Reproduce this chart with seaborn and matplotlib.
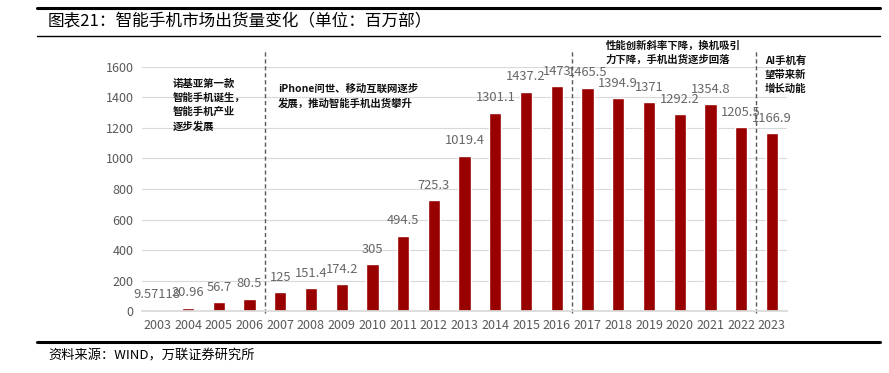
import matplotlib
matplotlib.use('Agg')
import matplotlib.pyplot as plt
import seaborn as sns
import pandas as pd

years = [str(y) for y in range(2003, 2024)]
shipments = [9.57118, 20.96, 56.7, 80.5, 125, 151.4, 174.2, 305, 494.5, 725.3,
             1019.4, 1301.1, 1437.2, 1473, 1465.5, 1394.9, 1371, 1292.2,
             1354.8, 1205.5, 1166.9]
value_labels = ['9.57118', '20.96', '56.7', '80.5', '125', '151.4', '174.2', '305',
                '494.5', '725.3', '1019.4', '1301.1', '1437.2', '1473', '1465.5',
                '1394.9', '1371', '1292.2', '1354.8', '1205.5', '1166.9']
phase_breaks = ['2006', '2016', '2022']  # dashed line after these years
phase_notes = ['诺基亚第一款\n智能手机诞生，\n智能手机产业\n逐步发展',
               'iPhone问世、移动互联网逐步\n发展，推动智能手机出货攀升',
               '性能创新斜率下降，换机吸引\n力下降，手机出货逐步回落',
               'AI手机有\n望带来新\n增长动能']

df = pd.DataFrame({'year': years, 'shipments': shipments})

sns.set_theme(style='white')
plt.rcParams['font.family'] = ['Noto Sans CJK SC', 'DejaVu Sans']

fig = plt.figure(figsize=(8.89, 3.73), dpi=100)
ax = fig.add_axes([0.1597, 0.1662, 0.7258, 0.6542])

sns.barplot(ax=ax, data=df, x='year', y='shipments', color='#990000',
            saturation=1, width=0.4)
ax.set_ylim(0, 1600)
ax.set_xlim(-0.5, len(years) - 0.5)
ax.set_yticks(range(0, 1601, 200))
ax.yaxis.grid(True, color='#d9d9d9', lw=0.8)
ax.set_axisbelow(True)
for s in ['top', 'right', 'left']:
    ax.spines[s].set_visible(False)
ax.spines['bottom'].set_color('#d9d9d9')
ax.tick_params(axis='both', length=0, labelsize=9, colors='#595959', pad=6)
ax.set_xlabel('')
ax.set_ylabel('')

ax.bar_label(ax.containers[0], labels=value_labels, padding=6,
             fontsize=9.3, color='#666666')

for yr in phase_breaks:
    xb = years.index(yr) + 0.5
    ax.plot([xb, xb], [-10, 1715], ls=(0, (3, 2)), color='#595959', lw=1,
            clip_on=False)

note_kw = dict(fontsize=7.5, fontweight='bold', color='#111111', va='top',
               ha='left', linespacing=1.45, transform=fig.transFigure)
fig.text(173 / 889, 1 - 79 / 373, phase_notes[0], **note_kw)
fig.text(278 / 889, 1 - 84 / 373, phase_notes[1], **note_kw)
fig.text(606 / 889, 1 - 41 / 373, phase_notes[2], **note_kw)
fig.text(765 / 889, 1 - 56 / 373, phase_notes[3], **note_kw)

# title and footer frame
fig.add_artist(plt.Line2D([37 / 889, 880 / 889], [1 - 8 / 373] * 2, color='black', lw=2.2))
fig.add_artist(plt.Line2D([37 / 889, 880 / 889], [1 - 36 / 373] * 2, color='black', lw=1))
fig.add_artist(plt.Line2D([37 / 889, 880 / 889], [1 - 342 / 373] * 2, color='black', lw=2.2))
fig.text(48 / 889, 1 - 22 / 373, '图表21：智能手机市场出货量变化（单位：百万部）',
         fontsize=12, va='center', ha='left', color='black')
fig.text(48 / 889, 1 - 356 / 373, '资料来源：WIND，万联证券研究所',
         fontsize=9.5, va='center', ha='left', color='black', style='italic')

fig.savefig('out.png', dpi=100)
plt.close()
